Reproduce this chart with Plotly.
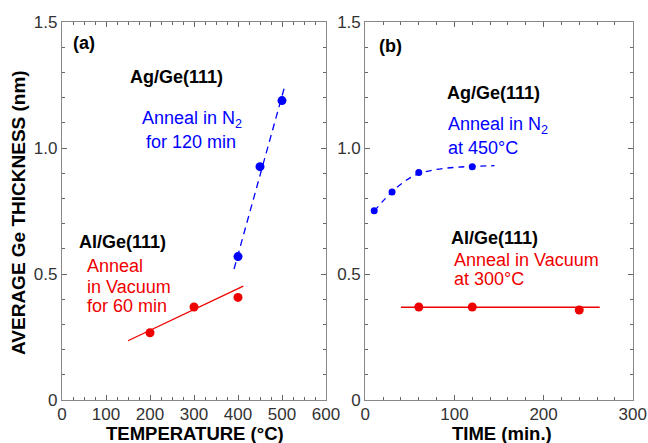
import plotly.graph_objects as go

# Panel (a): thickness vs temperature
ag_temp = [400, 450, 500]
ag_temp_thk = [0.569, 0.926, 1.188]
ag_temp_fit_x = [391, 507]
ag_temp_fit_y = [0.52, 1.25]

al_temp = [200, 300, 400]
al_temp_thk = [0.267, 0.369, 0.407]
al_temp_fit_x = [150, 412]
al_temp_fit_y = [0.235, 0.452]

# Panel (b): thickness vs time
ag_time = [10, 30, 60, 120]
ag_time_thk = [0.751, 0.825, 0.903, 0.926]
ag_time_fit_x = [10, 20, 30, 45, 60, 80, 100, 120, 145]
ag_time_fit_y = [0.750, 0.790, 0.826, 0.870, 0.898, 0.915, 0.923, 0.927, 0.930]

al_time = [60, 120, 240]
al_time_thk = [0.369, 0.369, 0.357]
al_time_fit_x = [40, 263]
al_time_fit_y = [0.368, 0.368]

y_ticks = [0, 0.5, 1.0, 1.5]
y_ticktext = ["0", "0.5", "1.0", "1.5"]
xa_ticks = [0, 100, 200, 300, 400, 500, 600]
xb_ticks = [0, 100, 200, 300]

BLUE = "#0000ff"
RED = "#ee0000"
FONT = "Liberation Sans, Arial, sans-serif"

fig = go.Figure()

# panel a
fig.add_trace(go.Scatter(x=ag_temp_fit_x, y=ag_temp_fit_y, mode="lines",
                         line=dict(color=BLUE, width=1.3, dash="7px,5px"),
                         xaxis="x", yaxis="y", showlegend=False))
fig.add_trace(go.Scatter(x=ag_temp, y=ag_temp_thk, mode="markers",
                         marker=dict(color=BLUE, size=9),
                         xaxis="x", yaxis="y", showlegend=False))
fig.add_trace(go.Scatter(x=al_temp_fit_x, y=al_temp_fit_y, mode="lines",
                         line=dict(color=RED, width=1.3),
                         xaxis="x", yaxis="y", showlegend=False))
fig.add_trace(go.Scatter(x=al_temp, y=al_temp_thk, mode="markers",
                         marker=dict(color=RED, size=9),
                         xaxis="x", yaxis="y", showlegend=False))

# panel b
fig.add_trace(go.Scatter(x=ag_time_fit_x, y=ag_time_fit_y, mode="lines",
                         line=dict(color=BLUE, width=1.3, dash="6px,5px", shape="spline"),
                         xaxis="x2", yaxis="y2", showlegend=False))
fig.add_trace(go.Scatter(x=ag_time, y=ag_time_thk, mode="markers",
                         marker=dict(color=BLUE, size=7),
                         xaxis="x2", yaxis="y2", showlegend=False))
fig.add_trace(go.Scatter(x=al_time_fit_x, y=al_time_fit_y, mode="lines",
                         line=dict(color=RED, width=1.5),
                         xaxis="x2", yaxis="y2", showlegend=False))
fig.add_trace(go.Scatter(x=al_time, y=al_time_thk, mode="markers",
                         marker=dict(color=RED, size=9),
                         xaxis="x2", yaxis="y2", showlegend=False))

axis_common = dict(showline=True, linecolor="#888888", linewidth=1.2, mirror="allticks",
                   ticks="inside", ticklen=5, tickwidth=1, tickcolor="#666666",
                   showgrid=False, zeroline=False, automargin=False,
                   tickfont=dict(family=FONT, size=17, color="#333333"))

fig.update_layout(
    width=648, height=443,
    margin=dict(l=0, r=0, t=0, b=0, autoexpand=False),
    paper_bgcolor="white", plot_bgcolor="white",
    font=dict(family=FONT),
    xaxis=dict(domain=[62/648, 326/648], range=[0, 600], tickvals=xa_ticks,
               minor=dict(dtick=25, ticks="inside", ticklen=3, tickcolor="#666666"),
               ticklabelstandoff=-2, anchor="y", **axis_common),
    yaxis=dict(domain=[1-400/443, 1-22/443], range=[0, 1.5], tickvals=y_ticks, ticktext=y_ticktext,
               minor=dict(dtick=0.1, ticks="inside", ticklen=3, tickcolor="#666666"),
               anchor="x", **axis_common),
    xaxis2=dict(domain=[365.3/648, 632.7/648], range=[0, 300], tickvals=xb_ticks,
                minor=dict(dtick=20, ticks="inside", ticklen=3, tickcolor="#666666"),
                ticklabelstandoff=-2, anchor="y2", **axis_common),
    yaxis2=dict(domain=[1-400/443, 1-22/443], range=[0, 1.5], tickvals=y_ticks, ticktext=y_ticktext,
                minor=dict(dtick=0.1, ticks="inside", ticklen=3, tickcolor="#666666"),
                anchor="x2", **axis_common),
)

def px(xp):
    return xp / 648

def py(yp):
    return 1 - yp / 443

def ann(text, x, y, color="black", size=18, bold=False, xanchor="center", angle=0):
    fig.add_annotation(text=f"<b>{text}</b>" if bold else text, x=px(x), y=py(y),
                       xref="paper", yref="paper", showarrow=False, xanchor=xanchor, yanchor="middle",
                       textangle=angle, font=dict(family=FONT, size=size, color=color))

# axis titles (placed as paper text)
ann("TEMPERATURE (°C)", 195, 433, bold=True, size=18.5)
ann("TIME (min.)", 502, 433, bold=True, size=18.5)
ann("AVERAGE Ge THICKNESS (nm)", 19, 213, bold=True, size=19, angle=-90)

ann("(a)", 84, 43, bold=True)
ann("Ag/Ge(111)", 176, 77, bold=True)
ann("Anneal in N<sub>2</sub>", 192, 120, color=BLUE)
ann("for 120 min", 191, 142, color=BLUE)
ann("Al/Ge(111)", 122, 242, bold=True)
ann("Anneal", 85, 266, color=RED, xanchor="left")
ann("in Vacuum", 85, 287, color=RED, xanchor="left")
ann("for 60 min", 85, 306, color=RED, xanchor="left")

ann("(b)", 390, 46, bold=True)
ann("Ag/Ge(111)", 493, 93, bold=True)
ann("Anneal in N<sub>2</sub>", 446, 125, color=BLUE, xanchor="left")
ann("at 450°C", 446, 148, color=BLUE, xanchor="left")
ann("Al/Ge(111)", 494, 238, bold=True)
ann("Anneal in Vacuum", 452, 260, color=RED, xanchor="left")
ann("at 300°C", 452, 279, color=RED, xanchor="left")

fig.write_html("out.html")
